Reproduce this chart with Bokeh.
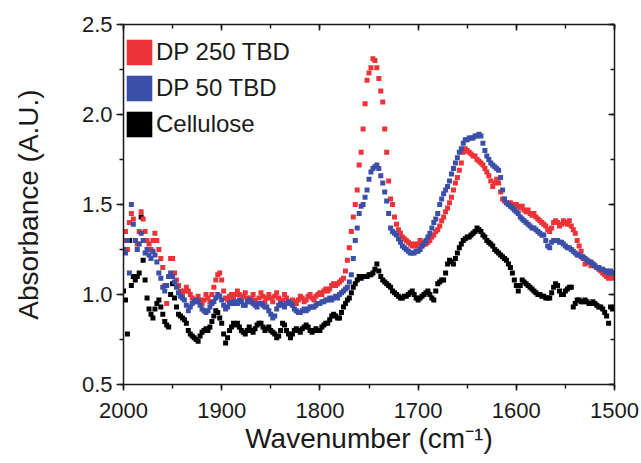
import numpy as np
from bokeh.plotting import figure
from bokeh.models import (Range1d, SingleIntervalTicker, LinearAxis, Legend, LegendItem,
                          CustomJSTickFormatter, PrintfTickFormatter, ColumnDataSource)
from bokeh.embed import file_html
from bokeh.resources import INLINE

# ---- data ----
wavenumber = np.arange(2000, 1499, -2)  # 2000 ... 1500, step 2 cm-1

dp250 = [
    1.30, 1.35, 1.25, 1.40, 1.45, 1.42, 1.30, 1.28, 1.35, 1.46, 1.42, 1.35, 1.30, 1.28, 1.25, 1.30, 1.34, 1.30, 1.25, 1.20, 1.15, 1.05, 0.95, 1.10, 1.20,
    1.20, 1.12, 1.08, 1.05, 1.02, 1.00, 1.02, 1.04, 1.02, 1.00, 0.98, 0.97, 0.96, 0.99, 0.97, 0.95, 0.97, 1.00, 0.98, 0.96, 1.00, 1.04, 1.08, 1.11, 1.12,
    1.08, 1.02, 0.98, 0.97, 0.99, 1.00, 0.98, 1.00, 1.02, 1.00, 0.97, 0.99, 1.01, 0.98, 0.96, 0.98, 1.00, 0.97, 0.95, 0.98, 1.01, 0.99, 0.96, 0.98, 1.00,
    0.98, 0.96, 0.99, 1.01, 0.98, 0.96, 0.97, 1.00, 0.98, 0.96, 0.95, 0.97, 0.96, 0.95, 0.97, 0.99, 0.98, 0.96, 0.97, 0.99, 1.00, 0.98, 0.97, 0.99, 1.00,
    1.01, 1.00, 1.02, 1.03, 1.02, 1.03, 1.05, 1.06, 1.05, 1.06, 1.07, 1.08, 1.09, 1.13, 1.19, 1.26, 1.35, 1.43, 1.50, 1.58, 1.72, 1.79, 1.92, 2.06, 2.19,
    2.23, 2.26, 2.31, 2.30, 2.26, 2.20, 2.13, 2.07, 1.92, 1.79, 1.63, 1.53, 1.50, 1.43, 1.39, 1.36, 1.34, 1.32, 1.31, 1.30, 1.29, 1.28, 1.27, 1.28, 1.27,
    1.28, 1.30, 1.27, 1.29, 1.28, 1.29, 1.30, 1.32, 1.33, 1.35, 1.36, 1.38, 1.41, 1.43, 1.46, 1.48, 1.51, 1.54, 1.58, 1.62, 1.65, 1.69, 1.73, 1.79, 1.81,
    1.80, 1.79, 1.78, 1.77, 1.77, 1.75, 1.74, 1.73, 1.72, 1.70, 1.68, 1.66, 1.63, 1.60, 1.62, 1.64, 1.62, 1.57, 1.53, 1.52, 1.51, 1.50, 1.51, 1.50, 1.49,
    1.50, 1.49, 1.48, 1.49, 1.47, 1.46, 1.47, 1.45, 1.44, 1.45, 1.43, 1.42, 1.41, 1.40, 1.39, 1.38, 1.36, 1.35, 1.37, 1.40, 1.41, 1.40, 1.38, 1.39, 1.41,
    1.40, 1.39, 1.41, 1.38, 1.36, 1.34, 1.30, 1.27, 1.24, 1.20, 1.17, 1.19, 1.18, 1.16, 1.17, 1.16, 1.15, 1.14, 1.13, 1.12, 1.11, 1.10, 1.09, 1.10, 1.09,
    1.10,
]

dp50 = [
    1.25, 1.23, 1.30, 1.12, 1.50, 1.39, 1.30, 1.25, 1.28, 1.34, 1.30, 1.23, 1.25, 1.22, 1.20, 1.24, 1.22, 1.18, 1.12, 1.09, 1.04, 1.02, 1.05, 1.10, 1.12,
    1.10, 1.07, 1.04, 1.01, 0.99, 0.98, 0.97, 0.94, 0.91, 0.93, 0.95, 0.96, 0.97, 0.96, 0.94, 0.92, 0.91, 0.90, 0.91, 0.93, 0.95, 0.96, 0.98, 1.00, 0.99,
    0.97, 0.94, 0.92, 0.93, 0.95, 0.96, 0.95, 0.96, 0.95, 0.97, 0.96, 0.94, 0.94, 0.96, 0.97, 0.96, 0.95, 0.94, 0.93, 0.95, 0.95, 0.94, 0.93, 0.93, 0.91,
    0.89, 0.87, 0.88, 0.92, 0.94, 0.95, 0.94, 0.93, 0.95, 0.96, 0.95, 0.94, 0.92, 0.91, 0.90, 0.90, 0.91, 0.92, 0.91, 0.92, 0.93, 0.93, 0.93, 0.94, 0.95,
    0.95, 0.96, 0.96, 0.97, 0.97, 0.98, 0.97, 0.98, 0.99, 0.98, 1.00, 1.01, 1.02, 1.03, 1.04, 1.07, 1.11, 1.20, 1.30, 1.37, 1.45, 1.49, 1.50, 1.54, 1.58,
    1.64, 1.68, 1.70, 1.71, 1.72, 1.70, 1.66, 1.62, 1.57, 1.52, 1.45, 1.37, 1.35, 1.34, 1.33, 1.31, 1.29, 1.27, 1.26, 1.25, 1.24, 1.23, 1.23, 1.23, 1.24,
    1.24, 1.25, 1.27, 1.28, 1.30, 1.32, 1.34, 1.37, 1.40, 1.42, 1.45, 1.50, 1.53, 1.56, 1.58, 1.60, 1.63, 1.67, 1.70, 1.73, 1.76, 1.79, 1.81, 1.84, 1.86,
    1.86, 1.87, 1.87, 1.87, 1.88, 1.88, 1.89, 1.88, 1.84, 1.80, 1.77, 1.75, 1.73, 1.72, 1.71, 1.70, 1.69, 1.65, 1.58, 1.53, 1.51, 1.50, 1.49, 1.48, 1.47,
    1.46, 1.45, 1.43, 1.42, 1.41, 1.40, 1.39, 1.38, 1.37, 1.37, 1.36, 1.35, 1.34, 1.33, 1.33, 1.30, 1.27, 1.26, 1.29, 1.30, 1.30, 1.30, 1.29, 1.29, 1.28,
    1.27, 1.26, 1.26, 1.25, 1.24, 1.23, 1.22, 1.22, 1.21, 1.21, 1.20, 1.19, 1.18, 1.18, 1.17, 1.16, 1.15, 1.15, 1.14, 1.14, 1.13, 1.13, 1.12, 1.13, 1.12,
    1.12,
]

cellulose = [
    1.02, 0.97, 0.78, 1.30, 1.05, 1.10, 1.08, 1.10, 1.12, 1.43, 1.19, 1.08, 0.98, 0.92, 0.89, 0.87, 0.92, 0.95, 0.97, 0.93, 0.89, 0.85, 0.83, 0.82, 1.00,
    1.06, 0.98, 0.93, 0.89, 0.88, 0.87, 0.86, 0.84, 0.80, 0.78, 0.77, 0.76, 0.75, 0.74, 0.77, 0.79, 0.80, 0.81, 0.80, 0.82, 0.85, 0.88, 0.91, 0.90, 0.87,
    0.84, 0.78, 0.73, 0.76, 0.80, 0.82, 0.84, 0.83, 0.84, 0.82, 0.80, 0.79, 0.78, 0.80, 0.82, 0.80, 0.79, 0.81, 0.83, 0.84, 0.84, 0.82, 0.80, 0.81, 0.82,
    0.80, 0.79, 0.78, 0.76, 0.77, 0.80, 0.84, 0.83, 0.80, 0.78, 0.76, 0.78, 0.80, 0.81, 0.80, 0.79, 0.81, 0.82, 0.83, 0.82, 0.80, 0.79, 0.80, 0.81, 0.80,
    0.80, 0.82, 0.83, 0.84, 0.84, 0.86, 0.88, 0.89, 0.88, 0.87, 0.87, 0.90, 0.93, 0.95, 0.97, 0.98, 1.01, 1.04, 1.06, 1.08, 1.10, 1.09, 1.10, 1.10, 1.10,
    1.11, 1.11, 1.12, 1.14, 1.17, 1.13, 1.10, 1.08, 1.07, 1.06, 1.05, 1.04, 1.02, 1.01, 1.00, 0.99, 0.98, 0.98, 0.99, 0.99, 1.00, 1.01, 1.02, 1.00, 0.98,
    0.97, 0.98, 0.99, 1.00, 1.01, 1.02, 1.00, 0.98, 0.97, 1.02, 1.06, 1.07, 1.08, 1.08, 1.12, 1.17, 1.19, 1.18, 1.17, 1.20, 1.23, 1.26, 1.28, 1.30, 1.31,
    1.32, 1.32, 1.33, 1.34, 1.35, 1.37, 1.36, 1.35, 1.33, 1.32, 1.30, 1.29, 1.28, 1.27, 1.25, 1.24, 1.23, 1.22, 1.21, 1.20, 1.19, 1.17, 1.15, 1.12, 1.08,
    1.05, 1.02, 1.05, 1.08, 1.07, 1.06, 1.05, 1.04, 1.03, 1.02, 1.01, 1.00, 1.00, 0.99, 0.99, 0.98, 0.98, 0.98, 1.01, 1.04, 1.06, 1.05, 1.02, 1.00, 1.00,
    1.02, 1.03, 1.04, 1.04, 0.93, 0.95, 0.97, 0.97, 0.96, 0.96, 0.97, 0.96, 0.95, 0.95, 0.96, 0.95, 0.94, 0.93, 0.93, 0.92, 0.90, 0.88, 0.84, 0.93, 0.92,
    0.93,
]

series_names = ["DP 250 TBD", "DP 50 TBD", "Cellulose"]
x_ticks_interval = 100
y_ticks_interval = 0.5

RED = "#ec3338"
BLUE = "#3c4fa8"
BLACK = "#000000"
FONT = "Liberation Sans"
AXIS_COLOR = "#1a1a1a"

p = figure(width=641, height=463, output_backend="svg", toolbar_location=None,
           x_range=Range1d(2000, 1500), y_range=Range1d(0.5, 2.5),
           min_border_left=123, min_border_right=27, min_border_top=24, min_border_bottom=79)
p.grid.visible = False
p.outline_line_color = None
p.background_fill_color = "white"
p.border_fill_color = "white"

src = ColumnDataSource(dict(x=wavenumber, red=dp250, blue=dp50, black=cellulose))
p.scatter("x", "black", source=src, marker="square", size=5, fill_color=BLACK, line_color=None)
p.scatter("x", "red", source=src, marker="square", size=5, fill_color=RED, line_color=None)
p.scatter("x", "blue", source=src, marker="square", size=5, fill_color=BLUE, line_color=None)

xt = SingleIntervalTicker(interval=x_ticks_interval, num_minor_ticks=2)
yt = SingleIntervalTicker(interval=y_ticks_interval, num_minor_ticks=2)

def style_axis(ax):
    ax.axis_line_width = 1.5
    ax.axis_line_color = AXIS_COLOR
    ax.major_tick_line_color = AXIS_COLOR
    ax.minor_tick_line_color = AXIS_COLOR
    ax.major_tick_line_width = 1.5
    ax.minor_tick_line_width = 1.5
    ax.major_label_text_font = FONT
    ax.major_label_text_font_size = "22px"
    ax.major_label_text_color = AXIS_COLOR
    ax.axis_label_text_font = FONT
    ax.axis_label_text_font_size = "28px"
    ax.axis_label_text_font_style = "normal"
    ax.axis_label_text_color = AXIS_COLOR

xa = p.xaxis[0]
xa.ticker = xt
style_axis(xa)
xa.major_tick_out = 6
xa.major_tick_in = 0
xa.minor_tick_out = 4
xa.minor_tick_in = 0
xa.major_label_standoff = 12
xa.axis_label = "Wavenumber (cm\u207b\u00b9)"
xa.axis_label_standoff = 2

ya = p.yaxis[0]
ya.ticker = yt
ya.formatter = PrintfTickFormatter(format="%.1f")
style_axis(ya)
ya.major_tick_out = 7
ya.major_tick_in = 0
ya.minor_tick_out = 4
ya.minor_tick_in = 0
ya.major_label_standoff = 4
ya.axis_label = "Absorbance (A.U.)"
ya.axis_label_standoff = 35

blank = CustomJSTickFormatter(code="return ''")
top = LinearAxis(ticker=xt, formatter=blank)
style_axis(top)
top.major_tick_in = 6; top.major_tick_out = 0
top.minor_tick_in = 4; top.minor_tick_out = 0
top.major_label_standoff = 0
p.add_layout(top, "above")

right = LinearAxis(ticker=yt, formatter=blank)
style_axis(right)
right.major_tick_in = 6; right.major_tick_out = 0
right.minor_tick_in = 4; right.minor_tick_out = 0
right.major_label_standoff = 0
p.add_layout(right, "right")

# legend swatches (proxy renderers that draw nothing on the plot itself)
nan = [float("nan")]
leg_r = p.rect(x=nan, y=nan, width=1, height=1, fill_color=RED, line_color=None)
leg_b = p.rect(x=nan, y=nan, width=1, height=1, fill_color=BLUE, line_color=None)
leg_k = p.rect(x=nan, y=nan, width=1, height=1, fill_color=BLACK, line_color=None)
legend = Legend(items=[LegendItem(label=series_names[0], renderers=[leg_r]),
                       LegendItem(label=series_names[1], renderers=[leg_b]),
                       LegendItem(label=series_names[2], renderers=[leg_k])],
                location=(0, 244), glyph_width=32, glyph_height=32, label_standoff=1,
                spacing=4, padding=3, margin=0, border_line_color=None,
                background_fill_alpha=0, label_text_font=FONT, label_text_font_size="24px",
                label_text_color=AXIS_COLOR, label_height=32)
p.add_layout(legend)

open("out.html", "w").write(file_html(p, INLINE))
